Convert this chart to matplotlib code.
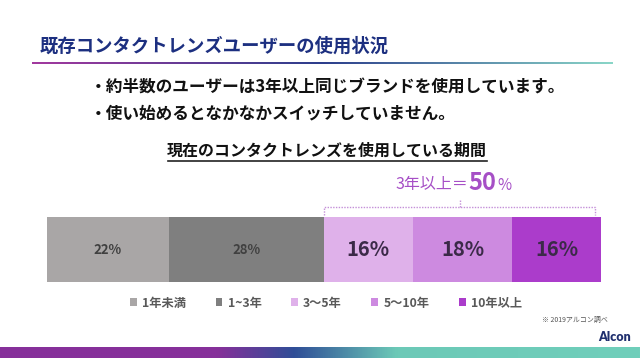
import numpy as np
import matplotlib
matplotlib.use("Agg")
import matplotlib.pyplot as plt
from matplotlib.colors import LinearSegmentedColormap
from matplotlib.patches import Patch

plt.rcParams['font.family'] = ['Noto Sans CJK JP', 'DejaVu Sans']

# data
categories = ['1年未満', '1~3年', '3～5年', '5～10年', '10年以上']
shares     = [22, 28, 16, 18, 16]
colors     = ['#a9a6a6', '#7f7f7f', '#dfb1ea', '#cd8ae0', '#ab3ccb']
big_label  = [False, False, True, True, True]

title    = '既存コンタクトレンズユーザーの使用状況'
bullets  = ['・約半数のユーザーは3年以上同じブランドを使用しています。',
            '・使い始めるとなかなかスイッチしていません。']
subtitle = '現在のコンタクトレンズを使用している期間'
note     = '※ 2019アルコン調べ'

W, H = 640, 360
fig = plt.figure(figsize=(6.4, 3.6), dpi=100)
fig.patch.set_facecolor('white')

###
### Overlay axes in pixel coordinates
###
bg = fig.add_axes([0, 0, 1, 1])
bg.set_xlim(0, W)
bg.set_ylim(H, 0)
bg.axis('off')

bg.text(40, 46, title, fontsize=13.2, fontweight='bold', color='#1c2f80',
        ha='left', va='center')
ul_cmap = LinearSegmentedColormap.from_list(
    'ul', [(0, '#a3399f'), (0.5, '#2c3e8c'), (1, '#8ad6c8')])
grad = np.linspace(0, 1, 256).reshape(1, -1)
bg.imshow(grad, cmap=ul_cmap, extent=[32, 613, 64, 62], aspect='auto')

for i, line in enumerate(bullets):
    bg.text(90, 88 + 25 * i, line, fontsize=12, fontweight='bold',
            color='#111111', ha='left', va='center')

bg.text(327, 151, subtitle, fontsize=11.5, fontweight='bold',
        color='#111111', ha='center', va='center')
bg.plot([168, 487], [161, 161], color='#222222', lw=1.2)

purple = '#a64fc6'
bg.text(468, 184, '3年以上＝', fontsize=11.5, color=purple,
        ha='right', va='center')
bg.text(468, 183, '50', fontsize=17, fontweight='bold', color=purple,
        ha='left', va='center')
bg.text(497, 185, '%', fontsize=11, color=purple, ha='left', va='center')

bg.text(542, 320, note, fontsize=5, color='#555555', ha='left', va='center')
bg.text(631, 337, 'Alcon', family=['Lato', 'DejaVu Sans'], fontsize=9,
        fontweight='heavy', color='#1f2f6e', ha='right', va='center')

band_cmap = LinearSegmentedColormap.from_list(
    'band', [(0, '#86309a'), (0.34, '#86309a'), (0.46, '#2f4e97'),
             (0.62, '#6cc9b7'), (1, '#70cfbb')])
bg.imshow(grad, cmap=band_cmap, extent=[0, W, 358, 347], aspect='auto')

###
### Stacked bar
###
ax = fig.add_axes([47 / W, 1 - 282 / H, (601 - 47) / W, 65 / H])
lefts = np.concatenate([[0], np.cumsum(shares)[:-1]])
handles = []
for s, l, c, lab, big in zip(shares, lefts, colors, categories, big_label):
    ax.barh(0, s, left=l, height=1, color=c, edgecolor='none')
    handles.append(Patch(facecolor=c, label=lab))
    if big:
        ax.text(l + s / 2, 0, f'{s}%', fontsize=14.5, fontweight='bold',
                color='#3b2a48', ha='center', va='center')
    else:
        ax.text(l + s / 2, 0, f'{s}%', fontsize=9.5, fontweight='bold',
                color='#404040', ha='center', va='center')
ax.set_xlim(0, 100)
ax.set_ylim(-0.5, 0.5)
ax.axis('off')

# bracket over the 3+ year segments
x0 = lefts[2]
x1 = 99
xm = (x0 + x1) / 2
bkw = dict(color='#c48fd8', lw=1, ls=(0, (1, 1)), clip_on=False)
ax.plot([x0, x0, x1, x1], [0.53, 0.65, 0.65, 0.53], **bkw)
ax.plot([xm, xm], [0.65, 0.78], **bkw)

###
### Legend
###
leg = fig.legend(handles=handles, loc='center left',
                 bbox_to_anchor=(130 / W, 1 - 303 / H), ncol=5, frameon=False,
                 handlelength=0.55, handleheight=0.55, handletextpad=0.45,
                 columnspacing=2.4, borderpad=0, borderaxespad=0,
                 prop={'family': ['Noto Sans CJK JP', 'DejaVu Sans'],
                       'weight': 'bold', 'size': 8.8})
for t in leg.get_texts():
    t.set_color('#595959')

plt.savefig('out.png', dpi=100)
